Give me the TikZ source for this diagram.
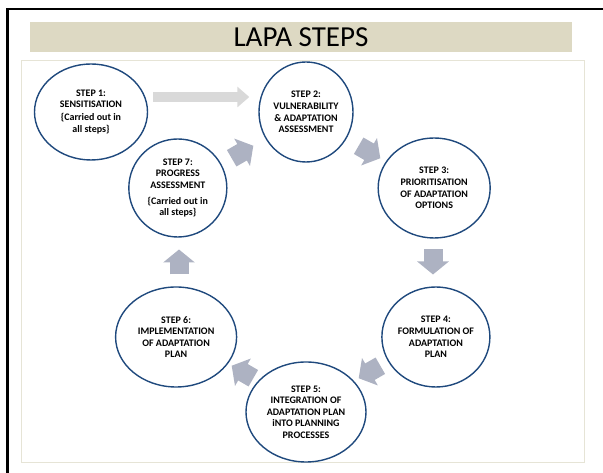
\documentclass[tikz,border=0pt]{standalone}
\usepackage{fontspec}
\setmainfont{Carlito}
\usetikzlibrary{shapes.geometric,arrows.meta,calc,positioning}

\definecolor{stepblue}{RGB}{31,73,125}
\definecolor{arrowgray}{RGB}{173,178,194}
\definecolor{senslight}{RGB}{217,217,217}
\definecolor{titlebg}{RGB}{221,217,195}
\definecolor{boxline}{RGB}{230,228,214}

\tikzset{
  stepnode/.style={ellipse, draw=stepblue, line width=1.4pt, fill=white, inner sep=0pt,
    align=center, font=\fontsize{10}{11.6}\selectfont\bfseries, minimum height=100pt},
  cyclearrow/.style={draw=arrowgray, line width=19pt, -{Triangle[width=31pt,length=13pt]}},
  sensarrow/.style={draw=senslight, line width=10pt, -{Triangle[width=20pt,length=12pt]}}
}

\begin{document}
\begin{tikzpicture}[x=1pt,y=1pt]
        \useasboundingbox (0,0) rectangle (603,473);
        \draw[line width=2.5pt] (7.5,0) -- (7.5,464) -- (603,464);
        \fill[titlebg] (30,421) rectangle (572,451);
        \node[font=\fontsize{29}{32}\selectfont] (title) at (301,436) {LAPA STEPS};
        \draw[boxline, line width=1pt] (21,10) rectangle (584,412);

        \coordinate (c) at (306,211);
        \node[stepnode, minimum width=94pt] (s2) at ($(c)+(90:150)$) {STEP 2:\\VULNERABILITY\\\& ADAPTATION\\ASSESSMENT};
        \node[stepnode, minimum width=112pt] (s3) at ($(c)+(30:148)$) {STEP 3:\\PRIORITISATION\\OF ADAPTATION\\OPTIONS};
        \node[stepnode, minimum width=108pt] (s4) at ($(c)+(-30:150)$) {STEP 4:\\FORMULATION OF\\ADAPTATION\\PLAN};
        \node[stepnode, minimum width=120pt] (s5) at ($(c)+(-90:150)$) {STEP 5:\\INTEGRATION OF\\ADAPTATION PLAN\\iNTO PLANNING\\PROCESSES};
        \node[stepnode, minimum width=121pt] (s6) at ($(c)+(-150:150)$) {STEP 6:\\IMPLEMENTATION\\OF ADAPTATION\\PLAN};
        \node[stepnode, minimum width=98pt, minimum height=98pt] (s7) at ($(c)+(150:148)$) {STEP 7:\\PROGRESS\\ASSESSMENT\\[4pt]\{Carried out in\\all steps\}};
        \node[stepnode, minimum width=113pt, minimum height=96pt] (s1) at (91,361) {STEP 1:\\SENSITISATION\\[1pt]\{Carried out in\\[1pt]all steps\}};

        \draw[sensarrow] ([shift={(5pt,15pt)}]s1.east) -- ([shift={(-9pt,15pt)}]s2.west);
        \foreach \a/\n in {60/23,0/34,-60/45,-120/56,180/67,120/72} {
          \coordinate (a\n s) at ($(c)+(\a:127)+(\a+90:12.5)$);
          \coordinate (a\n e) at ($(c)+(\a:127)+(\a-90:12.5)$);
          \draw[cyclearrow] (a\n s) -- (a\n e);
        }
      \end{tikzpicture}
\end{document}
